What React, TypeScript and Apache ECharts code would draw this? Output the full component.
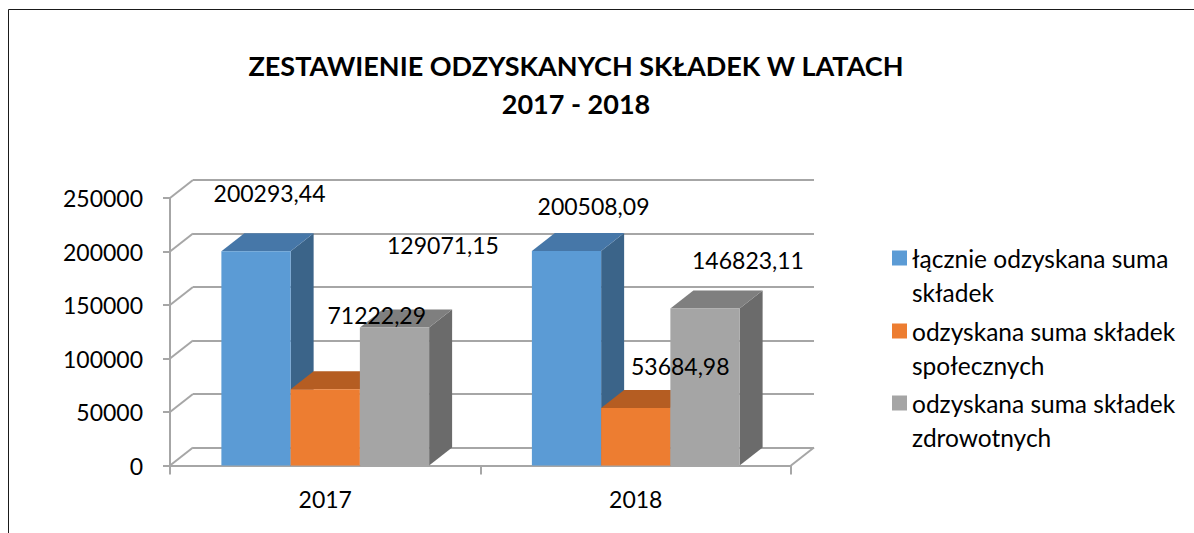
import React, { useEffect, useRef } from "react";
import * as echarts from "echarts";

const categories = ["2017", "2018"];
const seriesNames = [
  "łącznie odzyskana suma składek",
  "odzyskana suma składek społecznych",
  "odzyskana suma składek zdrowotnych",
];
const legendLines = [
  "łącznie odzyskana suma\nskładek",
  "odzyskana suma składek\nspołecznych",
  "odzyskana suma składek\nzdrowotnych",
];
const totalValues = [200293.44, 200508.09];
const socialValues = [71222.29, 53684.98];
const healthValues = [129071.15, 146823.11];
const yTicks = [0, 50000, 100000, 150000, 200000, 250000];

// style only
const faceColors = [
  { front: "#5B9BD5", top: "#4677A8", side: "#3B6489" },
  { front: "#ED7D31", top: "#B55D22", side: "#A34F1C" },
  { front: "#A5A5A5", top: "#7F7F7F", side: "#6B6B6B" },
];
const labelOffsets = [
  [[13.5, -58], [27, -45]],
  [[51.5, -74], [44.5, -42]],
  [[48.5, -82], [43, -48]],
];
const DX = 23;
const DY = -18;
const BAR_FRAC = 0.223;
const GRID_COLOR = "#A6A6A6";
const FONT = 'Lato, "Open Sans", sans-serif';

const allValues = [totalValues, socialValues, healthValues];

function fmt(v: number) {
  return v.toFixed(2).replace(".", ",");
}

function barRender(sIdx: number) {
  return (params: any, api: any) => {
    const ci = api.value(0);
    const v = api.value(1);
    const base = api.coord([ci, 0]);
    const top = api.coord([ci, v]);
    const band = api.size([1, 0])[0];
    const bw = band * BAR_FRAC;
    const left = base[0] - 1.5 * bw + sIdx * bw;
    const ty = top[1];
    const by = base[1];
    const c = faceColors[sIdx];
    return {
      type: "group",
      children: [
        {
          type: "polygon",
          shape: { points: [[left + bw, ty], [left + bw + DX, ty + DY], [left + bw + DX, by + DY], [left + bw, by]] },
          style: { fill: c.side },
        },
        {
          type: "polygon",
          shape: { points: [[left, ty], [left + bw, ty], [left + bw + DX, ty + DY], [left + DX, ty + DY]] },
          style: { fill: c.top },
        },
        {
          type: "rect",
          shape: { x: left, y: ty, width: bw, height: by - ty },
          style: { fill: c.front },
        },
      ],
    };
  };
}

function labelRender(sIdx: number) {
  return (params: any, api: any) => {
    const ci = api.value(0);
    const v = api.value(1);
    const top = api.coord([ci, v]);
    const band = api.size([1, 0])[0];
    const bw = band * BAR_FRAC;
    const cx = top[0] - 1.5 * bw + sIdx * bw + bw / 2;
    const off = labelOffsets[sIdx][ci];
    return {
      type: "text",
      x: cx + off[0],
      y: top[1] + off[1],
      style: {
        text: fmt(v),
        fill: "#000",
        font: `23px ${FONT}`,
        align: "center",
        verticalAlign: "middle",
      },
    };
  };
}

function wallRender(params: any, api: any) {
  const v = api.value(1);
  const p = api.coord([0, v]);
  const cs = params.coordSys;
  const children: any[] = [
    {
      type: "line",
      shape: { x1: cs.x, y1: p[1], x2: cs.x + DX, y2: p[1] + DY },
      style: { stroke: GRID_COLOR, lineWidth: 2 },
    },
  ];
  if (v === 0) {
    children.push({
      type: "line",
      shape: { x1: cs.x + cs.width, y1: p[1], x2: cs.x + cs.width + DX, y2: p[1] + DY },
      style: { stroke: GRID_COLOR, lineWidth: 2 },
    });
  }
  return { type: "group", children };
}

export default function App() {
  const ref = useRef<HTMLDivElement>(null);
  useEffect(() => {
    if (!ref.current) return;
    const chart = echarts.init(ref.current, null, { renderer: "svg" });
    const frontGrid = { left: 170, right: 1194 - 791, top: 198, bottom: 533 - 465.5 };
    const backGrid = {
      left: frontGrid.left + DX,
      right: frontGrid.right - DX,
      top: frontGrid.top + DY,
      bottom: frontGrid.bottom - DY,
    };
    const legendTops = [207, 280, 352];
    const series: any[] = [
      {
        type: "custom",
        name: "walls",
        xAxisIndex: 0,
        yAxisIndex: 0,
        z: 1,
        silent: true,
        renderItem: wallRender,
        data: yTicks.map((v) => [0, v]),
      },
    ];
    seriesNames.forEach((name, s) => {
      series.push({
        type: "custom",
        name,
        xAxisIndex: 0,
        yAxisIndex: 0,
        z: 2 + s,
        itemStyle: { color: faceColors[s].front },
        renderItem: barRender(s),
        encode: { x: 0, y: 1 },
        data: allValues[s].map((v, i) => [i, v]),
      });
    });
    seriesNames.forEach((name, s) => {
      series.push({
        type: "custom",
        name: name + " (etykiety)",
        xAxisIndex: 0,
        yAxisIndex: 0,
        z: 10,
        silent: true,
        renderItem: labelRender(s),
        encode: { x: 0, y: 1 },
        data: allValues[s].map((v, i) => [i, v]),
      });
    });
    chart.setOption({
      animation: false,
      textStyle: { fontFamily: FONT },
      title: {
        text: "ZESTAWIENIE ODZYSKANYCH SKŁADEK W LATACH\n2017 - 2018",
        left: 576,
        textAlign: "center",
        top: 46,
        padding: 0,
        textStyle: { fontFamily: FONT, fontSize: 27, fontWeight: "bold", lineHeight: 38, color: "#000" },
      },
      graphic: [
        {
          type: "rect",
          shape: { x: 8.5, y: 9.5, width: 1300, height: 700 },
          style: { fill: "none", stroke: "#1a1a1a", lineWidth: 1 },
          silent: true,
          z: 0,
        },
      ],
      legend: seriesNames.map((name, i) => ({
        data: [name],
        left: 892,
        top: legendTops[i],
        orient: "vertical",
        itemWidth: 15,
        itemHeight: 15,
        icon: "rect",
        padding: 0,
        selectedMode: false,
        formatter: () => " \n" + legendLines[i],
        textStyle: {
          fontFamily: FONT,
          fontSize: 24.5,
          lineHeight: 34,
          color: "#000",
        },
      })),
      grid: [frontGrid, backGrid],
      xAxis: [
        {
          type: "category",
          gridIndex: 0,
          data: categories,
          boundaryGap: true,
          axisLine: { show: true, lineStyle: { color: GRID_COLOR, width: 2 } },
          axisTick: { show: true, length: 9, interval: 0, lineStyle: { color: GRID_COLOR, width: 2 } },
          axisLabel: { color: "#000", fontSize: 23, fontFamily: FONT, margin: 22 },
          splitLine: { show: false },
        },
        {
          type: "category",
          gridIndex: 1,
          data: categories,
          show: false,
        },
      ],
      yAxis: [
        {
          type: "value",
          gridIndex: 0,
          min: 0,
          max: 250000,
          interval: 50000,
          axisLine: { show: true, lineStyle: { color: GRID_COLOR, width: 2 } },
          axisTick: { show: true, length: 7, lineStyle: { color: GRID_COLOR, width: 2 } },
          axisLabel: {
            color: "#000",
            fontSize: 23,
            fontFamily: FONT,
            margin: 27,
            formatter: (v: number) => String(v),
          },
          splitLine: { show: false },
        },
        {
          type: "value",
          gridIndex: 1,
          min: 0,
          max: 250000,
          interval: 50000,
          axisLine: { show: false },
          axisTick: { show: false },
          axisLabel: { show: false },
          splitLine: { show: true, lineStyle: { color: GRID_COLOR, width: 2 } },
        },
      ],
      series,
    });
    return () => chart.dispose();
  }, []);
  return (
    <div
      ref={ref}
      style={{ position: "absolute", left: 0, top: 0, width: 1194, height: 533, background: "#fff" }}
    />
  );
}
